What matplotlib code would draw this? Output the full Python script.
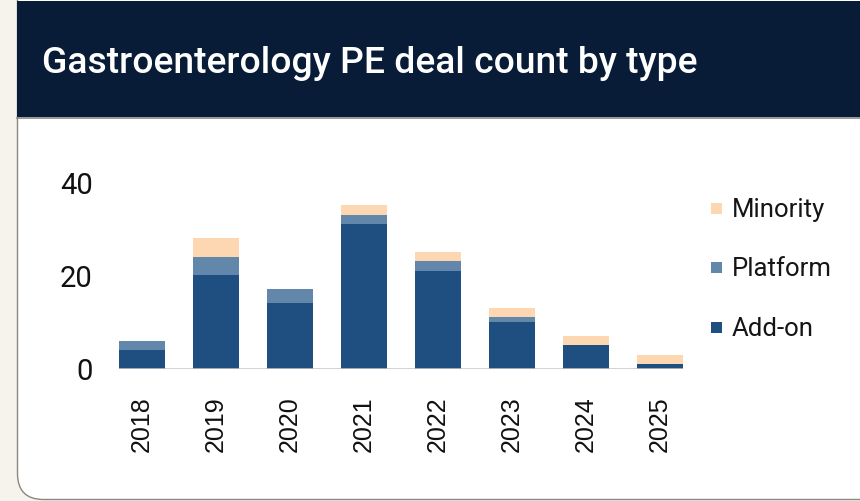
import matplotlib
matplotlib.use("Agg")
import matplotlib.pyplot as plt
from matplotlib.patches import Rectangle, FancyBboxPatch
import numpy as np

years = ["2018", "2019", "2020", "2021", "2022", "2023", "2024", "2025"]
addon = [4, 20, 14, 31, 21, 10, 5, 1]
platform = [2, 4, 3, 2, 2, 1, 0, 0]
minority = [0, 4, 0, 2, 2, 2, 2, 2]
series_names = ["Minority", "Platform", "Add-on"]
yticks = [0, 20, 40]
title = "Gastroenterology PE deal count by type"

c_addon = "#1e4f80"
c_platform = "#6287aa"
c_minority = "#fcd7b1"
navy = "#081b37"
beige = "#f6f3ed"

W, H = 860, 502
fig = plt.figure(figsize=(W / 100, H / 100), dpi=100)
fig.patch.set_facecolor(beige)

bg = fig.add_axes([0, 0, 1, 1], zorder=0)
bg.set_xlim(0, W)
bg.set_ylim(H, 0)
bg.axis("off")

card = FancyBboxPatch((17.5, -40), 950, 540.5, boxstyle="round,pad=0,rounding_size=26",
                      fc="white", ec="#8a8782", lw=1.0)
bg.add_patch(card)
bg.add_patch(Rectangle((17, 2), 900, 116, fc=navy, ec="none"))
bg.plot([17, W], [118.5, 118.5], color="#8a8782", lw=1.2)
bg.text(42, 73, title, color="white", fontsize=26.8, family=["Roboto", "DejaVu Sans"],
        fontweight="medium", va="baseline", ha="left")

# legend (manual, figure pixel coords)
leg_colors = [c_minority, c_platform, c_addon]
leg_y = [209, 268.5, 328]
for name, col, yy in zip(series_names, leg_colors, leg_y):
    bg.add_patch(Rectangle((711, yy - 5.5), 11, 11, fc=col, ec="none"))
    bg.text(732, yy + 1, name, fontsize=18.5, family=["Roboto", "DejaVu Sans"],
            color="#151515", va="center", ha="left")

# main axes
x0, x1 = 119.0, 683.0
y0, y1 = 369.5, 183.0
ax = fig.add_axes([x0 / W, (H - y0) / H, (x1 - x0) / W, (y0 - y1) / H], zorder=1)
ax.patch.set_alpha(0)
x = np.arange(len(years))
bw = 0.62
ax.bar(x, addon, width=bw, color=c_addon, zorder=2)
ax.bar(x, platform, width=bw, bottom=addon, color=c_platform, zorder=2)
ax.bar(x, minority, width=bw, bottom=np.array(addon) + np.array(platform),
       color=c_minority, zorder=2)
ax.axhline(0, color="#cbc6c0", lw=2.0, zorder=3, alpha=0.85)
ax.set_xlim(-bw / 2, len(years) - 1 + bw / 2)
ax.set_ylim(0, 40)
for s in ax.spines.values():
    s.set_visible(False)
ax.set_yticks(yticks)
ax.set_yticklabels([str(v) for v in yticks], fontsize=21,
                   family=["Roboto", "DejaVu Sans"], color="#111111")
ax.set_xticks(x)
ax.set_xticklabels(years, rotation=90, fontsize=18,
                   family=["Liberation Sans", "DejaVu Sans"], color="#111111")
ax.tick_params(axis="y", length=0, pad=19)
ax.tick_params(axis="x", length=0, pad=19)

fig.savefig("out.png", dpi=100, facecolor=beige)
